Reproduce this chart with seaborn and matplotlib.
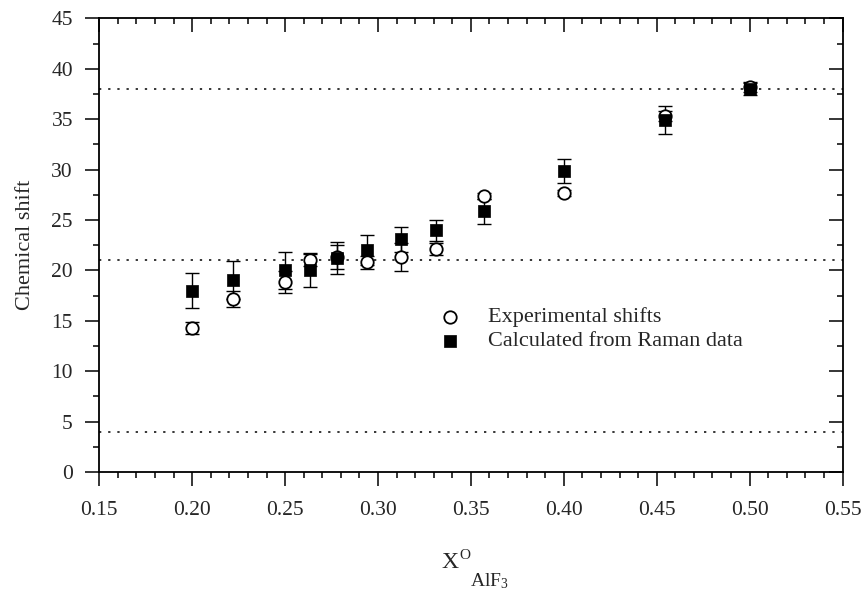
import numpy as np
import pandas as pd
import seaborn as sns
import matplotlib
matplotlib.use("Agg")
import matplotlib.pyplot as plt
from matplotlib.ticker import MultipleLocator

# data
x_frac = [0.2000, 0.2222, 0.2500, 0.2632, 0.2778, 0.2941, 0.3125, 0.3310, 0.3571, 0.4000, 0.4545, 0.5000]
exp_shift = [14.3, 17.2, 18.85, 21.0, 21.3, 20.8, 21.3, 22.1, 27.4, 27.65, 35.3, 38.2]
exp_err = [0.6, 0.8, 1.1, 0.6, 1.2, 0.65, 1.4, 0.6, 0.3, 0.3, 0.5, 0.5]
calc_shift = [18.0, 19.05, 20.0, 20.05, 21.2, 22.05, 23.1, 24.0, 25.85, 29.9, 34.9, 38.0]
calc_err = [1.75, 1.85, 1.8, 1.7, 1.6, 1.5, 1.25, 1.05, 1.2, 1.2, 1.4, 0.6]
ref_lines = [38, 21, 4]

df = pd.DataFrame({"x": x_frac, "exp": exp_shift, "exp_err": exp_err,
                   "calc": calc_shift, "calc_err": calc_err})

sns.set_style("ticks")
plt.rcParams["font.family"] = ["Liberation Serif", "DejaVu Serif"]
plt.rcParams["mathtext.fontset"] = "custom"
plt.rcParams["mathtext.rm"] = "Liberation Serif"
plt.rcParams["mathtext.it"] = "Liberation Serif:italic"

W, H = 865, 591
fig = plt.figure(figsize=(W / 100, H / 100), dpi=100)
ax = fig.add_axes([0.1148, 0.2014, 0.974 - 0.1148, 0.9687 - 0.2014])

# horizontal dotted reference levels
for y in ref_lines:
    ax.axhline(y, color="black", lw=1.1, ls=(0, (1.5, 4.5)), zorder=1)

# error bars
ax.errorbar(df["x"], df["exp"], yerr=df["exp_err"], fmt="none", ecolor="black",
            elinewidth=1.0, capsize=4.8, capthick=1.0, zorder=2)
ax.errorbar(df["x"], df["calc"], yerr=df["calc_err"], fmt="none", ecolor="black",
            elinewidth=1.0, capsize=4.8, capthick=1.0, zorder=2)

sns.scatterplot(data=df, x="x", y="exp", marker="o", s=80, facecolor="white",
                edgecolor="black", linewidth=1.3, label="Experimental shifts",
                ax=ax, zorder=3)
sns.scatterplot(data=df, x="x", y="calc", marker="s", s=85, color="black",
                edgecolor="black", linewidth=0.5, label="Calculated from Raman data",
                ax=ax, zorder=4)

ax.set_xlim(0.15, 0.55)
ax.set_ylim(0, 45)
ax.xaxis.set_major_locator(MultipleLocator(0.05))
ax.xaxis.set_minor_locator(MultipleLocator(0.01))
ax.yaxis.set_major_locator(MultipleLocator(5))
ax.yaxis.set_minor_locator(MultipleLocator(2.5))
ax.xaxis.set_major_formatter(plt.FuncFormatter(lambda v, p: f"{v:.2f}"))

for side in ["top", "right", "left", "bottom"]:
    ax.spines[side].set_visible(True)
    ax.spines[side].set_linewidth(1.3)
    ax.spines[side].set_color("black")

ax.tick_params(axis="both", which="both", top=True, right=True, color="black",
               labelsize=15.5, width=1.1)
ax.tick_params(axis="both", which="major", length=10)
ax.tick_params(axis="both", which="minor", length=4.5)
ax.tick_params(axis="x", which="both", direction="out", pad=11)
ax.tick_params(axis="y", which="both", direction="out", pad=9)
# top and right ticks point inward
for t in ax.xaxis.get_major_ticks() + ax.xaxis.get_minor_ticks():
    t.tick2line.set_marker(3)
for t in ax.yaxis.get_major_ticks() + ax.yaxis.get_minor_ticks():
    t.tick2line.set_marker(0)

ax.set_ylabel("Chemical shift", fontsize=16)
ax.yaxis.set_label_coords(-0.087, 0.5)
ax.set_xlabel("")

# x label: X with superscript O, then subscript AlF3 further right and lower
fig.text(441 / W, 1 - 568 / H, "X", fontsize=17, ha="left", va="baseline")
fig.text(459 / W, 1 - 559 / H, "O", fontsize=11, ha="left", va="baseline")
fig.text(470 / W, 1 - 586 / H, r"AlF$_3$", fontsize=14, ha="left", va="baseline")

ax.legend(loc="center left", bbox_to_anchor=(0.457, 0.315), frameon=False,
          fontsize=16, borderpad=0, borderaxespad=0, handlelength=1.0,
          handletextpad=1.2, labelspacing=0.15, markerscale=1.0)

fig.savefig("out.png", dpi=100)
plt.close(fig)
